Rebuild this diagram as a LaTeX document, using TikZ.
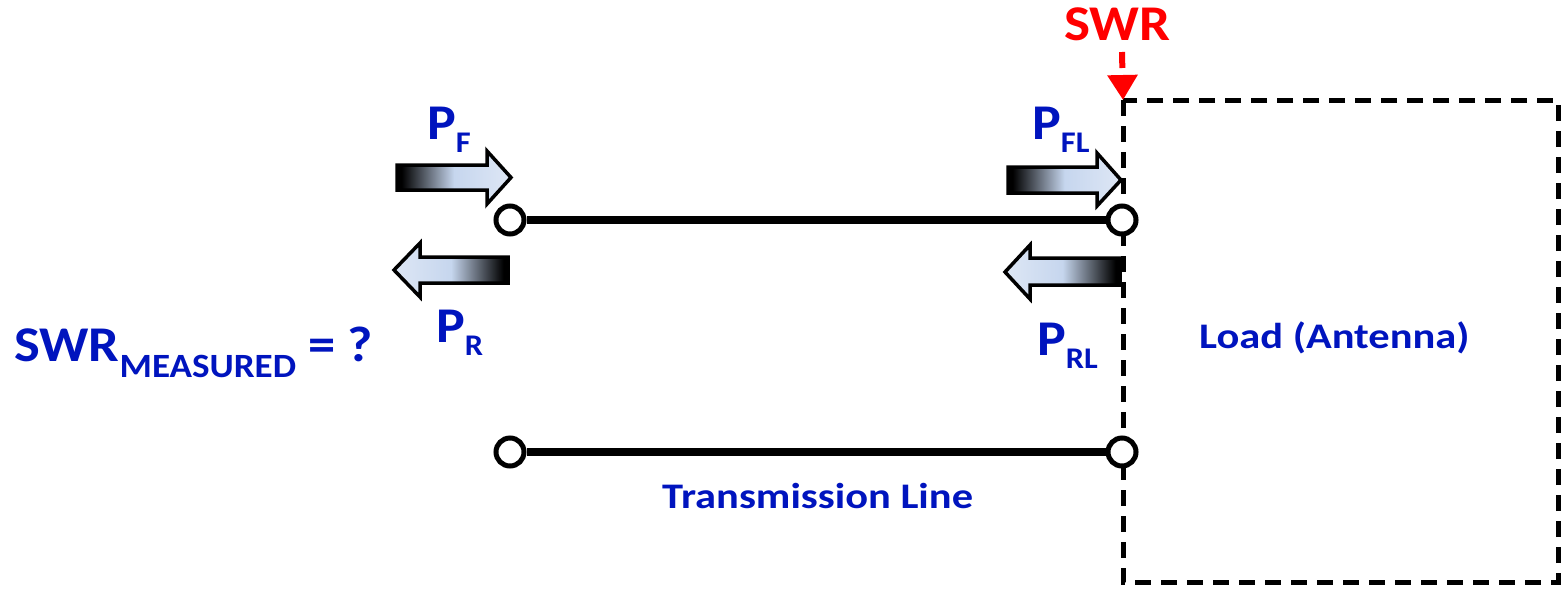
\documentclass[tikz,border=0pt]{standalone}
\usepackage{fontspec}
\setmainfont{Carlito}
\usetikzlibrary{arrows.meta}
\definecolor{lblue}{RGB}{0,20,190}
\definecolor{gblue}{RGB}{198,214,238}
\definecolor{gblue2}{RGB}{222,231,245}
\pgfdeclarehorizontalshading{fwdshade}{100bp}{color(0bp)=(black); color(27bp)=(black); color(50bp)=(gblue); color(75bp)=(gblue2); color(100bp)=(gblue2)}
\pgfdeclarehorizontalshading{bwdshade}{100bp}{color(0bp)=(gblue2); color(25bp)=(gblue2); color(50bp)=(gblue); color(73bp)=(black); color(100bp)=(black)}
\newcommand{\Psub}[1]{\scalebox{1.08}[1]{P\raisebox{-13pt}{\fontsize{30}{30}\selectfont #1}}}
\newcommand{\wide}[2]{\scalebox{#1}[1]{#2}}
\tikzset{
  lbl/.style={text=lblue, font=\bfseries\fontsize{50}{52}\selectfont, anchor=base west, inner sep=0pt},
  smlbl/.style={text=lblue, font=\bfseries\fontsize{36}{40}\selectfont, anchor=base west, inner sep=0pt},
  term/.style={circle, draw=black, fill=white, line width=5pt, minimum size=28pt, inner sep=0pt},
  wire/.style={line width=7.5pt},
  boxline/.style={line width=5pt, dash pattern=on 16pt off 10pt},
  fwd/.style={shading=fwdshade, draw=black, line width=3.5pt, line join=miter},
  bwd/.style={shading=bwdshade, draw=black, line width=3.5pt, line join=miter},
}
\begin{document}
\begin{tikzpicture}[x=1pt,y=-1pt]
\useasboundingbox (0,0) rectangle (1562,590);
% load box
\coordinate (boxtl) at (1123,100);
\coordinate (boxbr) at (1558,582);
\draw[boxline] (boxtl) rectangle (boxbr);
% SWR marker
\node[text=red, font=\bfseries\fontsize{50}{52}\selectfont, anchor=base west, inner sep=0pt] (swr) at (1064,40) {\wide{1.1}{SWR}};
\coordinate (swrs) at (1122,52);
\draw[red, line width=6pt, dash pattern=on 16pt off 10pt, -{Triangle[width=29pt,length=25pt]}] (swrs) -- (boxtl);
% transmission line
\node[term] (t1) at (510,220) {};
\node[term] (t2) at (1122,220) {};
\node[term] (t3) at (510,452) {};
\node[term] (t4) at (1122,452) {};
\draw[wire] (t1) -- (t2);
\draw[wire] (t3) -- (t4);
% power arrows
\shade[fwd] (397,165) -- (487,165) -- (487,151) -- (511,177.5) -- (487,204) -- (487,190) -- (397,190) -- cycle;
\shade[bwd] (508,257) -- (420,257) -- (420,243) -- (394,270) -- (420,297) -- (420,283) -- (508,283) -- cycle;
\shade[fwd] (1008,167) -- (1097,167) -- (1097,153) -- (1121,180) -- (1097,206) -- (1097,193) -- (1008,193) -- cycle;
\shade[bwd] (1120,258) -- (1030,258) -- (1030,245) -- (1005,272) -- (1030,299) -- (1030,285) -- (1120,285) -- cycle;
% labels
\node[lbl] (pf) at (427,139) {\Psub{F}};
\node[lbl] (pfl) at (1032,139) {\Psub{FL}};
\node[lbl] (pr) at (436,342) {\Psub{R}};
\node[lbl] (prl) at (1037,355) {\Psub{RL}};
\node[lbl] (swrm) at (14,361) {\wide{1.09}{SWR\raisebox{-16pt}{\fontsize{34}{34}\selectfont MEASURED} = ?}};
\node[smlbl] (tl) at (662,508) {\wide{1.18}{Transmission Line}};
\node[smlbl] (load) at (1199,348) {\wide{1.18}{Load (Antenna)}};
\end{tikzpicture}
\end{document}
